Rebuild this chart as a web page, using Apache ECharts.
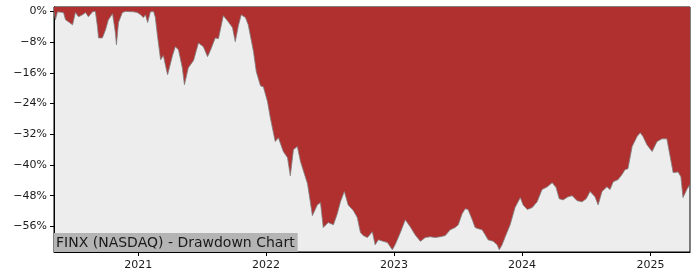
<!DOCTYPE html>
<html>
<head>
<meta charset="utf-8">
<script src="https://cdn.jsdelivr.net/npm/echarts@6/dist/echarts.min.js"></script>
<style>
html,body{margin:0;padding:0;background:#fff;}
#chart{width:700px;height:280px;}
</style>
</head>
<body>
<div id="chart"></div>
<script>
const titleText = 'FINX (NASDAQ) - Drawdown Chart';
const dates = [
'2020-05-06','2020-05-10','2020-05-16','2020-06-02','2020-06-08','2020-06-16','2020-06-28','2020-07-06','2020-07-15','2020-07-26',
'2020-08-04','2020-08-12','2020-08-24','2020-09-01','2020-09-07','2020-09-10','2020-09-21','2020-09-30','2020-10-08','2020-10-20',
'2020-10-28','2020-10-31','2020-11-06','2020-11-17','2020-11-26','2020-12-19','2020-12-30','2021-01-08','2021-01-16','2021-01-22',
'2021-01-28','2021-02-05','2021-02-14','2021-02-19','2021-02-25','2021-03-06','2021-03-14','2021-03-20','2021-03-26','2021-04-09',
'2021-04-17','2021-04-26','2021-05-07','2021-05-13','2021-05-24','2021-06-08','2021-06-22','2021-07-06','2021-07-18','2021-07-26',
'2021-08-09','2021-08-18','2021-09-01','2021-09-15','2021-09-27','2021-10-05','2021-10-14','2021-10-22','2021-11-03','2021-11-11',
'2021-11-26','2021-12-04','2021-12-16','2021-12-24','2022-01-05','2022-01-13','2022-01-27','2022-02-05','2022-02-19','2022-03-03',
'2022-03-11','2022-03-20','2022-03-31','2022-04-09','2022-04-29','2022-05-07','2022-05-13','2022-05-27','2022-06-05','2022-06-13',
'2022-06-27','2022-07-12','2022-07-23','2022-08-01','2022-08-12','2022-08-23','2022-09-07','2022-09-18','2022-09-27','2022-10-05',
'2022-10-17','2022-10-31','2022-11-08','2022-11-17','2022-12-01','2022-12-13','2022-12-27','2023-01-04','2023-01-19','2023-02-02',
'2023-02-16','2023-03-02','2023-03-17','2023-03-31','2023-04-14','2023-04-28','2023-05-13','2023-05-27','2023-06-10','2023-06-24',
'2023-07-03','2023-07-14','2023-07-23','2023-07-31','2023-08-12','2023-08-20','2023-08-29','2023-09-09','2023-09-18','2023-09-26',
'2023-10-11','2023-10-22','2023-10-28','2023-11-05','2023-11-14','2023-11-28','2023-12-12','2023-12-27','2024-01-04','2024-01-16',
'2024-01-30','2024-02-13','2024-02-27','2024-03-13','2024-03-27','2024-04-07','2024-04-16','2024-04-27','2024-05-11','2024-05-23',
'2024-06-06','2024-06-20','2024-07-02','2024-07-13','2024-07-27','2024-08-05','2024-08-16','2024-08-30','2024-09-08','2024-09-17',
'2024-10-01','2024-10-12','2024-10-21','2024-10-29','2024-11-10','2024-11-24','2024-12-03','2024-12-11','2024-12-22','2025-01-06',
'2025-01-20','2025-02-03','2025-02-17','2025-02-26','2025-03-07','2025-03-21','2025-03-29','2025-04-04','2025-04-16','2025-04-24'
];
const drawdown = [
0,-2.2,-0.1,-0.3,-2.2,-2.7,-3.5,-0.3,-1.4,-0.9,
-0.3,-1.4,-0.1,0,-4.0,-6.9,-6.9,-4.8,-2.2,-0.6,
-5.5,-8.7,-2.9,-0.3,0,-0.1,-0.3,-0.9,-1.6,-0.9,
-2.9,-0.1,0,-1.6,-6.3,-12.6,-11.5,-14.1,-16.5,-11.5,
-9.2,-10.0,-14.7,-19.1,-14.7,-12.8,-8.2,-9.2,-11.8,-10.2,
-6.9,-7.1,-1.1,-2.7,-4.2,-7.9,-3.7,-0.9,-1.6,-3.5,
-10.5,-15.7,-19.4,-19.6,-23.5,-27.7,-33.9,-32.9,-36.5,-38.1,
-42.8,-36.0,-35.2,-39.1,-44.9,-49.6,-53.2,-50.4,-49.8,-56.3,
-55.0,-55.6,-52.7,-49.6,-46.9,-50.4,-51.9,-53.7,-57.6,-58.4,
-58.9,-57.4,-60.8,-59.5,-59.9,-60.2,-62.1,-60.8,-57.6,-54.3,
-56.1,-58.2,-59.9,-58.9,-58.7,-58.9,-58.7,-58.4,-56.9,-56.3,
-55.6,-52.7,-51.4,-51.6,-54.3,-56.3,-56.6,-56.9,-58.2,-59.5,
-59.9,-60.8,-62.1,-60.8,-58.7,-55.6,-51.1,-48.5,-50.4,-51.6,
-51.1,-49.6,-46.4,-45.7,-44.6,-45.9,-48.8,-49.1,-48.3,-48.0,
-49.3,-49.6,-48.8,-46.9,-48.3,-50.4,-46.9,-45.7,-46.4,-44.4,
-43.8,-42.5,-41.2,-41.0,-35.2,-32.6,-31.6,-32.6,-34.7,-36.5,
-33.9,-33.2,-33.2,-37.6,-42.0,-41.8,-43.1,-48.5,-46.2,-45.1
];
const yTicks = [0, -8, -16, -24, -32, -40, -48, -56];
const xTickYears = [2021, 2022, 2023, 2024, 2025];

function ts(s) { const p = s.split('-').map(Number); return Date.UTC(p[0], p[1] - 1, p[2]); }
const xTickValues = xTickYears.map(y => Date.UTC(y, 0, 1));
const seriesData = dates.map((d, i) => [ts(d), drawdown[i]]);

const chart = echarts.init(document.getElementById('chart'), null, {renderer: 'canvas'});
chart.setOption({
  animation: false,
  backgroundColor: '#ffffff',
  title: {
    text: titleText,
    left: 54,
    top: 233,
    backgroundColor: '#b4b4b4',
    padding: [2, 3, 1, 2],
    textStyle: {fontFamily: 'DejaVu Sans', fontSize: 14, fontWeight: 'normal', color: '#1a1a1a', lineHeight: 16}
  },
  grid: {
    left: 54, right: 10, top: 7, bottom: 28,
    show: true, backgroundColor: '#ededed', borderColor: '#000', borderWidth: 1
  },
  xAxis: {
    type: 'value',
    min: ts(dates[0]),
    max: ts(dates[dates.length - 1]),
    splitLine: {show: false},
    axisLine: {show: true, onZero: false, lineStyle: {color: '#000', width: 1}},
    axisTick: {show: true, customValues: xTickValues, length: 4, lineStyle: {color: '#000'}},
    axisLabel: {
      customValues: xTickValues,
      fontFamily: 'DejaVu Sans', fontSize: 11, color: '#1a1a1a', margin: 8,
      formatter: v => String(new Date(v).getUTCFullYear())
    }
  },
  yAxis: {
    type: 'value',
    min: -62.67,
    max: 1.15,
    splitLine: {show: false},
    axisLine: {show: true, onZero: false, lineStyle: {color: '#000', width: 1}},
    axisTick: {show: true, customValues: yTicks, length: 4, lineStyle: {color: '#000'}},
    axisLabel: {
      customValues: yTicks,
      fontFamily: 'DejaVu Sans', fontSize: 11, color: '#1a1a1a', margin: 7,
      formatter: v => (v === 0 ? '0%' : '\u2212' + Math.abs(v) + '%')
    }
  },
  series: [{
    type: 'line',
    data: seriesData,
    showSymbol: false,
    symbol: 'none',
    lineStyle: {color: '#808080', width: 0.8},
    areaStyle: {color: '#b03030', opacity: 1, origin: 'end'},
    z: 2
  }]
});
</script>
</body>
</html>
